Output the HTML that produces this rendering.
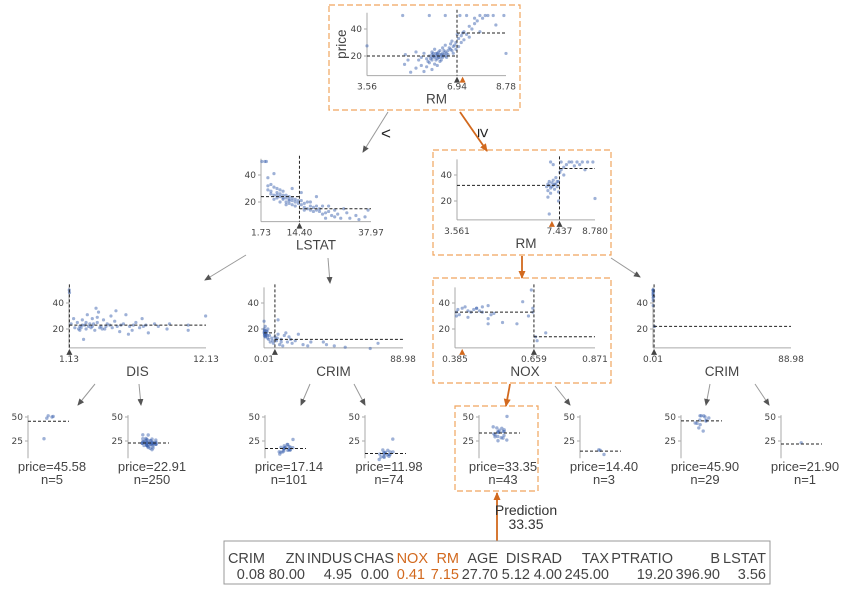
<!DOCTYPE html>
<html><head><meta charset="utf-8">
<style>
html,body{margin:0;padding:0;background:#fff;}
svg{display:block;font-family:"Liberation Sans",sans-serif;}
.tk{font-family:"DejaVu Sans","Liberation Sans",sans-serif;font-size:9px;fill:#444;}
.fl{font-size:13.5px;fill:#444;}
.lf{font-size:13px;fill:#444;}
.tb{font-size:14.5px;fill:#444;}
</style></head>
<body>
<svg id="chart" width="845" height="597" viewBox="0 0 845 597" xmlns="http://www.w3.org/2000/svg">
<defs>
<marker id="ag" markerWidth="7" markerHeight="7" refX="6" refY="3.5" orient="auto" markerUnits="userSpaceOnUse"><path d="M0,0.5 L7,3.5 L0,6.5 z" fill="#555"/></marker>
<marker id="ao" markerWidth="8" markerHeight="8" refX="7" refY="4" orient="auto" markerUnits="userSpaceOnUse"><path d="M0,0.5 L8,4 L0,7.5 z" fill="#d2691e"/></marker>
</defs>
<g id="boxes"></g>
<g id="edges"></g>
<g id="panels"></g>
<g id="leaves"></g>
<g id="table"></g>
</svg>
<script>
// ---------- data ----------
const rootPts=[[3.56,27.5],[4.97,13.8],[5.0,21],[5.2,8],[5.4,11],[5.5,17],[5.6,19],[5.6,13],[5.7,22],[5.8,18],[5.8,12],[5.9,20],[5.9,15],[6.0,21],[6.0,17],[6.0,23],[6.1,19],[6.1,14],[6.1,25],[6.2,20],[6.2,22],[6.2,18],[6.3,21],[6.3,24],[6.3,16],[6.4,22],[6.4,19],[6.4,26],[6.5,23],[6.5,20],[6.5,28],[6.6,24],[6.6,21],[6.7,25],[6.7,29],[6.8,27],[6.8,22],[6.9,30],[6.9,25],[5.9,50],[6.5,50],[6.2,13],[5.4,23],[4.9,50],[5.1,17],[6.0,10],[5.7,8.5],[7.0,33],[7.1,35],[7.2,32],[7.2,38],[7.3,36],[7.4,42],[7.5,40],[7.6,44],[7.7,46],[7.8,50],[7.9,48],[8.0,50],[8.3,50],[8.4,43],[8.7,50],[8.78,21.9],[7.0,27],[7.1,30],[6.95,36],[7.8,38],[7.05,50],[7.3,50],[6.1,20],[6.2,21],[6.3,19],[6.0,19],[6.4,20],[6.25,23],[6.15,22],[5.95,18],[6.05,20],[6.35,21],[6.45,24],[6.55,22],[6.65,26],[6.75,24],[6.85,28],[6.15,17],[6.25,19],[5.85,16],[6.35,17],[6.55,19],[6.45,21],[6.05,22],[6.75,31],[7.15,37],[7.4,34],[7.6,48],[8.1,50]];
const lstatPts=[[2,50],[3,50],[3.5,50],[4,32],[5,33],[5,28],[6,31],[6,25],[7,27],[7,23],[8,29],[8,24],[8,20],[9,25],[9,22],[10,23],[10,20],[10,18],[11,22],[11,19],[12,21],[12,18],[13,20],[13,17],[14,19],[15,18],[15,21],[16,16],[16,19],[17,15],[17,20],[18,14],[18,17],[19,13],[19,16],[20,14],[21,13],[22,11],[22,17],[23,12],[24,13],[25,10],[26,14],[27,11],[28,8],[30,12],[31,8],[33,10],[34,7],[36,9],[37,14],[15,27],[20,24],[12,30],[4,38],[6,41],[23,8],[29,15],[5,26],[7,25],[9,23],[11,21],[6,22],[8,26],[10,25],[12,23],[13,22],[14,21],[16,14],[18,20],[20,17],[21,15],[24,17],[26,9],[7,30],[9,28],[11,24],[4,29]];
const rm2Pts=[[6.95,31],[7.0,33],[7.0,28],[7.05,35],[7.1,30],[7.1,26],[7.15,34],[7.2,32],[7.2,36],[7.25,29],[7.3,33],[7.3,38],[7.35,31],[7.4,35],[7.4,27],[7.0,23],[7.05,10],[7.1,50],[7.2,48],[7.45,42],[7.5,44],[7.5,50],[7.6,46],[7.7,48],[7.8,50],[7.9,50],[8.0,47],[8.1,50],[8.2,48],[8.3,50],[8.4,44],[8.5,50],[8.7,50],[8.78,21.9],[7.6,40],[7.4,20],[7.15,31],[7.25,33],[7.35,35],[7.05,32]];
const disPts=[[1.15,50],[1.17,48],[1.3,24],[1.5,28],[1.6,21],[1.8,25],[2,22],[2,19],[2.2,27],[2.4,23],[2.5,20],[2.6,31],[2.8,24],[3,22],[3,28],[3.2,19],[3.4,25],[3.5,33],[3.7,22],[3.9,27],[4,20],[4.2,24],[4.5,30],[4.6,21],[4.8,26],[5,22],[5.2,18],[5.5,24],[5.7,31],[6,22],[6.2,19],[6.5,25],[6.8,21],[7,28],[7.3,23],[7.5,17],[8,24],[8.3,22],[9,20],[9.2,24],[10.7,23],[10.7,19],[12.1,30],[3.3,36],[2.3,12],[5.9,16],[2.1,21],[2.7,22],[3.6,21],[4.4,23],[1.9,20],[2.2,23],[2.9,21],[3.1,24],[3.8,20],[4.1,22],[5.3,23],[6.3,23],[7.1,22],[3.4,29],[4.9,34],[2.5,25]];
const crimLPts=[[0.05,26],[0.1,20],[0.2,18],[0.3,15],[0.5,17],[0.8,22],[1,14],[1.3,19],[1.6,16],[2,18],[2.3,13],[2.5,20],[3,12],[3.5,15],[4,10],[5,13],[6,9],[7,14],[8,11],[9,27],[10,8],[11,12],[12,7],[13,15],[15,10],[17,12],[18,9],[20,11],[22,16],[25,8],[28,7],[30,10],[38,10],[40,8],[45,7],[52,6],[68,5],[73,9],[9,16],[14,17],[0.4,16],[1.2,15],[5.5,11],[7.5,12],[0.1,17],[0.3,19],[0.6,14],[0.9,16],[1.5,18],[2.2,15],[8.5,13],[11,10],[16,14]];
const noxPts=[[0.39,33],[0.39,30],[0.395,35],[0.40,31],[0.41,36],[0.42,37],[0.43,34],[0.44,33],[0.45,35],[0.46,36],[0.47,34],[0.48,33],[0.48,37],[0.5,38],[0.5,28],[0.51,31],[0.52,32],[0.5,24],[0.55,25],[0.6,24],[0.62,41],[0.64,30],[0.65,50],[0.655,36],[0.655,33],[0.665,14],[0.67,11],[0.7,17],[0.43,29],[0.46,36]];
const crimRPts=[[0.02,50],[0.03,48],[0.05,46],[0.06,44],[0.08,50],[0.1,42],[0.12,47],[0.15,38],[0.2,50],[0.3,49],[0.4,45],[1.0,21.9]];

const leaf1Vals=[50,50,50,50,28];
const leaf2Vals=[22,23,24,21,25,20,26,19,27,18,22,23,24,21,25,30,16,28,22,24,20,23,21,25,26,19,22,24,23,32,17,27,23,22,21,24,20,25,22,23,19,26,24,21,28,18,23,22];
const leaf3Vals=[17,16,18,15,19,14,20,17,13,22,16,18,15,26,12,17,19,16,18,14,20,17];
const leaf4Vals=[12,11,10,13,9,14,8,12,15,11,10,27,7,13,12,11,9,14];
const leaf5Vals=[33,35,31,36,30,37,34,32,38,29,24,26,41,50,33,35,28,36,34,32];
const leaf6Vals=[14,11,17];
const leaf7Vals=[50,50,48,46,44,50,42,47,38,36,50,49,45];
const leaf8Vals=[21.9];
const leafMeans=[45.58,22.91,17.14,11.98,33.35,14.40,45.90,21.90];
const leafCounts=[5,250,101,74,43,3,29,1];

const tableHeaders=["CRIM","ZN","INDUS","CHAS","NOX","RM","AGE","DIS","RAD","TAX","PTRATIO","B","LSTAT"];
const tableValues=["0.08","80.00","4.95","0.00","0.41","7.15","27.70","5.12","4.00","245.00","19.20","396.90","3.56"];
const tableHighlight=["NOX","RM"];
const predictionValue="33.35";

// ---------- helpers ----------
const NS="http://www.w3.org/2000/svg";
const ORANGE="#d2691e", DOT="#3e64b0";
function mk(parent,tag,attrs,text){const e=document.createElementNS(NS,tag);for(const k in attrs)e.setAttribute(k,attrs[k]);if(text!==undefined)e.textContent=text;parent.appendChild(e);return e;}

const P=document.getElementById('panels');
function splitPanel(o){
  const g=mk(P,'g',{});
  
  
  const sx=v=>o.ax0+(v-o.xmin)/(o.xmax-o.xmin)*(o.ax1-o.ax0);
  const k=(o.y20-o.y40)/20;
  const sy=v=>o.y20-(v-20)*k;
  const top=sy(52), base=sy(5.5);
  mk(g,'line',{x1:o.ax0,y1:top,x2:o.ax0,y2:base,stroke:'#aaa','stroke-width':1});
  mk(g,'line',{x1:o.ax0,y1:base,x2:o.ax1,y2:base,stroke:'#aaa','stroke-width':1});
  [20,40].forEach(t=>{mk(g,'line',{x1:o.ax0-3,y1:sy(t),x2:o.ax0,y2:sy(t),stroke:'#aaa'});
    const tl=mk(g,'text',{x:o.ax0-5,y:sy(t)+3,'text-anchor':'end',class:'tk'},String(t));
    });
  o.pts.forEach(p=>{const c=mk(g,'circle',{cx:sx(p[0]),cy:sy(p[1]),r:1.6,fill:DOT,'fill-opacity':0.5});
    });
  const spx=sx(o.split);
  mk(g,'line',{x1:o.ax0,y1:sy(o.meanL),x2:spx,y2:sy(o.meanL),stroke:'#222','stroke-dasharray':'3,2','stroke-width':1});
  mk(g,'line',{x1:spx,y1:sy(o.meanR),x2:o.ax1,y2:sy(o.meanR),stroke:'#222','stroke-dasharray':'3,2','stroke-width':1});
  mk(g,'line',{x1:spx,y1:top-3,x2:spx,y2:base,stroke:'#222','stroke-dasharray':'3,2','stroke-width':1});
  mk(g,'path',{d:`M${spx-3},${base+7} L${spx+3},${base+7} L${spx},${base+1} z`,fill:'#444'});
  if(o.pred!==null){const px=sx(o.pred);
    const tr=mk(g,'path',{d:`M${px-3},${base+7} L${px+3},${base+7} L${px},${base+1} z`,fill:ORANGE});
    }
  [[o.ax0,o.xmin],[spx,o.split],[o.ax1,o.xmax]].forEach((t,i)=>{
    const tl=mk(g,'text',{x:t[0],y:base+14,'text-anchor':'middle',class:'tk'},o.labels[i]);
    });
  const fl=mk(g,'text',{x:(o.ax0+o.ax1)/2,y:base+28,'text-anchor':'middle',class:'fl'},o.feature);
  
  if(o.ylabel){const yl=mk(g,'text',{x:0,y:0,class:'fl',transform:`translate(${o.ax0-21},${(top+base)/2}) rotate(-90)`,'text-anchor':'middle'},o.ylabel);
    }
}

splitPanel({name:'root-node-rm',ax0:367,ax1:506,xmin:3.56,xmax:8.78,y20:56,y40:29,split:6.94,meanL:20,meanR:37,pts:rootPts,pred:7.15,labels:['3.56','6.94','8.78'],feature:'RM',ylabel:'price'});
splitPanel({name:'node-lstat',ax0:261,ax1:371,xmin:1.73,xmax:37.97,y20:202,y40:175,split:14.40,meanL:24,meanR:15,pts:lstatPts,pred:null,labels:['1.73','14.40','37.97'],feature:'LSTAT'});
splitPanel({name:'node-rm-right',ax0:457,ax1:595,xmin:3.561,xmax:8.780,y20:201,y40:175,split:7.437,meanL:32,meanR:45,pts:rm2Pts,pred:7.15,labels:['3.561','7.437','8.780'],feature:'RM'});
splitPanel({name:'node-dis',ax0:69,ax1:206,xmin:1.13,xmax:12.13,y20:329,y40:303,split:1.16,meanL:48,meanR:23,pts:disPts,pred:null,labels:['1.13','','12.13'],feature:'DIS'});
splitPanel({name:'node-crim-left',ax0:264,ax1:403,xmin:0.01,xmax:88.98,y20:329,y40:303,split:7.0,meanL:17,meanR:12,pts:crimLPts,pred:null,labels:['0.01','','88.98'],feature:'CRIM'});
splitPanel({name:'node-nox',ax0:455,ax1:595,xmin:0.385,xmax:0.871,y20:329,y40:303,split:0.659,meanL:33,meanR:14,pts:noxPts,pred:0.41,labels:['0.385','0.659','0.871'],feature:'NOX'});
splitPanel({name:'node-crim-right',ax0:653,ax1:791,xmin:0.01,xmax:88.98,y20:329,y40:303,split:0.7,meanL:46,meanR:22,pts:crimRPts,pred:null,labels:['0.01','','88.98'],feature:'CRIM'});

// leaves
const L=document.getElementById('leaves');
const leafAxes=[28,128,265,365,479,580,681,781];
const leafVals=[leaf1Vals,leaf2Vals,leaf3Vals,leaf4Vals,leaf5Vals,leaf6Vals,leaf7Vals,leaf8Vals];
const jit=[0,3,-3,5,-5,1,-1,4,-4,2,-2,6,-6,7,-7];
leafAxes.forEach((ax,i)=>{
  const g=mk(L,'g',{});
  
  
  const sy=v=>417+(50-v)*0.96;
  mk(g,'line',{x1:ax,y1:sy(52),x2:ax,y2:sy(7),stroke:'#aaa'});
  [25,50].forEach(t=>{mk(g,'line',{x1:ax-3,y1:sy(t),x2:ax,y2:sy(t),stroke:'#aaa'});
    mk(g,'text',{x:ax-5,y:sy(t)+3,'text-anchor':'end',class:'tk'},String(t));});
  const cx=ax+21;
  leafVals[i].forEach((v,j)=>{const c=mk(g,'circle',{cx:cx+jit[j%jit.length]+(j%3-1)*0.8,cy:sy(v)+((j*7)%5-2)*0.6,r:1.7,fill:DOT,'fill-opacity':0.5});
    });
  mk(g,'line',{x1:ax,y1:sy(leafMeans[i]),x2:ax+41,y2:sy(leafMeans[i]),stroke:'#222','stroke-dasharray':'3,2'});
  const t1=mk(g,'text',{x:ax+24,y:471,'text-anchor':'middle',class:'lf'},'price='+leafMeans[i].toFixed(2));
  
  const t2=mk(g,'text',{x:ax+24,y:484,'text-anchor':'middle',class:'lf'},'n='+leafCounts[i]);
  
});

// boxes
const B=document.getElementById('boxes');
[[329,5,191,105,'root-highlight-box'],[433,150,178,105,'rm-highlight-box'],[433,278,178,105,'nox-highlight-box'],[455,406,83,85,'leaf-highlight-box']].forEach(b=>{
  const r=mk(B,'rect',{x:b[0],y:b[1],width:b[2],height:b[3],fill:'none',stroke:'#f0a55e','stroke-width':1.2,'stroke-dasharray':'6,3'});
  
});

// edges
const E=document.getElementById('edges');
const edges=[[388,112,363,152,0],[460,112,487,151,1],[246,255,205,280,0],[328,258,330,283,0],[522,256,522,278,1],[611,258,640,277,0],
[95,384,78,405,0],[139,384,141,405,0],[310,384,301,405,0],[354,384,365,405,0],[510,384,506,406,1],[555,386,570,405,0],[710,384,706,405,0],[755,384,769,405,0],[497,541,497,493,1]];
edges.forEach(e=>{const l=mk(E,'line',{x1:e[0],y1:e[1],x2:e[2],y2:e[3],stroke:e[4]?ORANGE:'#999','stroke-width':e[4]?1.8:1,'marker-end':e[4]?'url(#ao)':'url(#ag)'});
  });
const lt=mk(E,'text',{x:386,y:139,'font-size':17,fill:'#222','text-anchor':'middle'},'<');

const ge=mk(E,'text',{x:0,y:0,'font-size':17,fill:'#222','text-anchor':'middle',transform:'translate(478,133) rotate(90)'},'≥');

const p1=mk(E,'text',{x:526,y:515,'text-anchor':'middle','font-size':14,fill:'#333'},'Prediction');

const p2=mk(E,'text',{x:526,y:529,'text-anchor':'middle','font-size':14,fill:'#333'},predictionValue);


// table
const T=document.getElementById('table');
const tr=mk(T,'rect',{x:224,y:541,width:546,height:43,fill:'#fff',stroke:'#999','stroke-width':1});

const hdrRight=[265,305,352,394,428,459,498,530,562,609,673,720,766];
const valRight=[265,305,352,389,425,459,498,530,562,609,673,720,766];
tableHeaders.forEach((h,i)=>{const hl=tableHighlight.includes(h);
  const a=mk(T,'text',{x:hdrRight[i],y:563,'text-anchor':'end',class:'tb',style:hl?'fill:'+ORANGE:''},h);
  
  const b=mk(T,'text',{x:valRight[i],y:579,'text-anchor':'end',class:'tb',style:hl?'fill:'+ORANGE:''},tableValues[i]);
  
});
</script>
</body></html>
